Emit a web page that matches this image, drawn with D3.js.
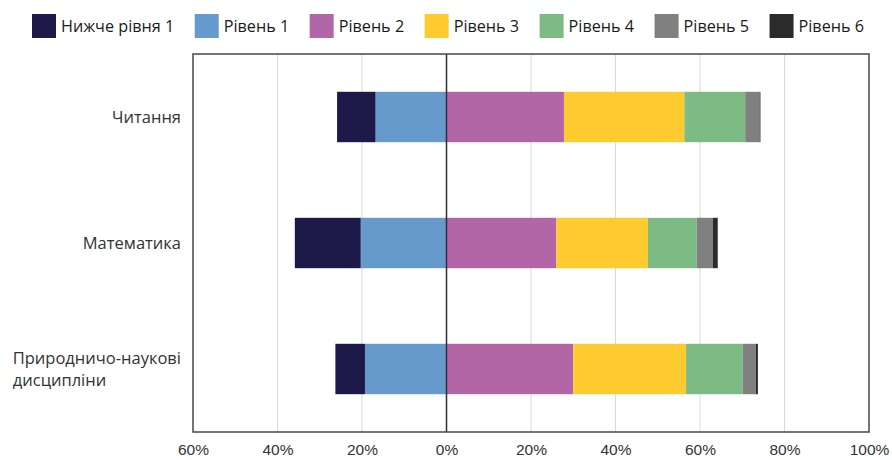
<!DOCTYPE html>
<html>
<head>
<meta charset="utf-8">
<script src="https://cdn.jsdelivr.net/npm/d3@7"></script>
<style>
  body { margin: 0; background: #fff; }
</style>
</head>
<body>
<svg id="chart" width="892" height="460"></svg>
<script>
// subjects (rows)
const subjects = ["Читання", "Математика", "Природничо-наукові дисципліни"];
// levels (legend order)
const levels = ["Нижче рівня 1", "Рівень 1", "Рівень 2", "Рівень 3", "Рівень 4", "Рівень 5", "Рівень 6"];
const colors = ["#1d1a4a", "#6699cc", "#b366a6", "#fdca2f", "#7dbb85", "#808080", "#2b2b2b"];
// shares of students, %
const below1 = [9.1, 15.6, 7.0];
const level1 = [16.8, 20.3, 19.3];
const level2 = [27.8, 26.0, 30.0];
const level3 = [28.5, 21.7, 26.7];
const level4 = [14.4, 11.5, 13.4];
const level5 = [3.4, 3.8, 3.1];
const level6 = [0.2, 1.2, 0.5];
const ticks = [-60, -40, -20, 0, 20, 40, 60, 80, 100];

const svg = d3.select("#chart");
const margin = {top: 54, right: 23, bottom: 28, left: 193};
const width = 892 - margin.left - margin.right;
const height = 460 - margin.top - margin.bottom;

const x = d3.scaleLinear().domain([-60, 100]).range([0, width]);
const y = d3.scaleBand().domain(subjects).range([0, height])
    .paddingInner(0.6).paddingOuter(0.3);

const g = svg.append("g").attr("transform", `translate(${margin.left},${margin.top})`);

// gridlines
g.append("g")
    .selectAll("line")
    .data(ticks.filter(t => t !== 0 && t !== -60 && t !== 100))
    .join("line")
    .attr("x1", d => x(d)).attr("x2", d => x(d))
    .attr("y1", 0).attr("y2", height)
    .attr("stroke", "#d9d9d9")
    .attr("stroke-width", 1);

// build segments: negative side goes left from 0, positive side right
const series = [below1, level1, level2, level3, level4, level5, level6];
let segs = [];
subjects.forEach((s, i) => {
    // left: level1 next to zero, below1 outside
    let l1 = level1[i], b1 = below1[i];
    segs.push({subject: s, x0: -l1, x1: 0, color: colors[1]});
    segs.push({subject: s, x0: -l1 - b1, x1: -l1, color: colors[0]});
    let acc = 0;
    for (let k = 2; k < series.length; k++) {
        segs.push({subject: s, x0: acc, x1: acc + series[k][i], color: colors[k]});
        acc += series[k][i];
    }
});

g.append("g")
    .selectAll("rect")
    .data(segs)
    .join("rect")
    .attr("x", d => x(d.x0))
    .attr("width", d => x(d.x1) - x(d.x0))
    .attr("y", d => y(d.subject))
    .attr("height", y.bandwidth())
    .attr("fill", d => d.color);

// zero line
g.append("line")
    .attr("x1", x(0)).attr("x2", x(0))
    .attr("y1", 0).attr("y2", height)
    .attr("stroke", "#2e2e38")
    .attr("stroke-width", 1.5);

// frame
g.append("rect")
    .attr("x", 0).attr("y", 0)
    .attr("width", width).attr("height", height)
    .attr("fill", "none")
    .attr("stroke", "#45454f")
    .attr("stroke-width", 1.5);

// x axis
const xAxis = g.append("g")
    .attr("transform", `translate(0,${height})`)
    .call(d3.axisBottom(x).tickValues(ticks).tickSize(0).tickPadding(12)
        .tickFormat(d => Math.abs(d) + "%"));
xAxis.select(".domain").remove();
xAxis.selectAll(".tick text")
    .style("font-family", "'Liberation Sans', Arial, sans-serif")
    .style("font-size", "15.5px")
    .style("fill", "#333");

// y labels (multi-line label is left aligned inside a right aligned block)
const yLab = g.append("g");
subjects.forEach(s => {
    let lines = s === "Природничо-наукові дисципліни" ? ["Природничо-наукові", "дисципліни"] : [s];
    let cy = y(s) + y.bandwidth() / 2;
    let t = yLab.append("text")
        .style("font-family", "'Open Sans', sans-serif")
        .style("font-size", "16.5px")
        .style("fill", "#333");
    let spans = lines.map((ln, j) => t.append("tspan")
        .attr("y", cy + (j - (lines.length - 1) / 2) * 22)
        .attr("dy", "0.35em")
        .text(ln));
    let w = d3.max(spans, sp => sp.node().getComputedTextLength());
    spans.forEach(sp => sp.attr("x", -12 - w));
});

// legend
const leg = svg.append("g").attr("transform", "translate(32,14)");
let lx = 0;
levels.forEach((name, i) => {
    let item = leg.append("g").attr("transform", `translate(${lx},0)`);
    item.append("rect")
        .attr("width", 24).attr("height", 24)
        .attr("fill", colors[i]);
    let t = item.append("text")
        .attr("x", 29).attr("y", 12).attr("dy", "0.36em")
        .style("font-family", "'Open Sans', sans-serif")
        .style("font-size", "16.2px")
        .style("fill", "#1a1a1a")
        .text(name);
    lx += 29 + t.node().getComputedTextLength() + 20.5;
});
</script>
</body>
</html>
